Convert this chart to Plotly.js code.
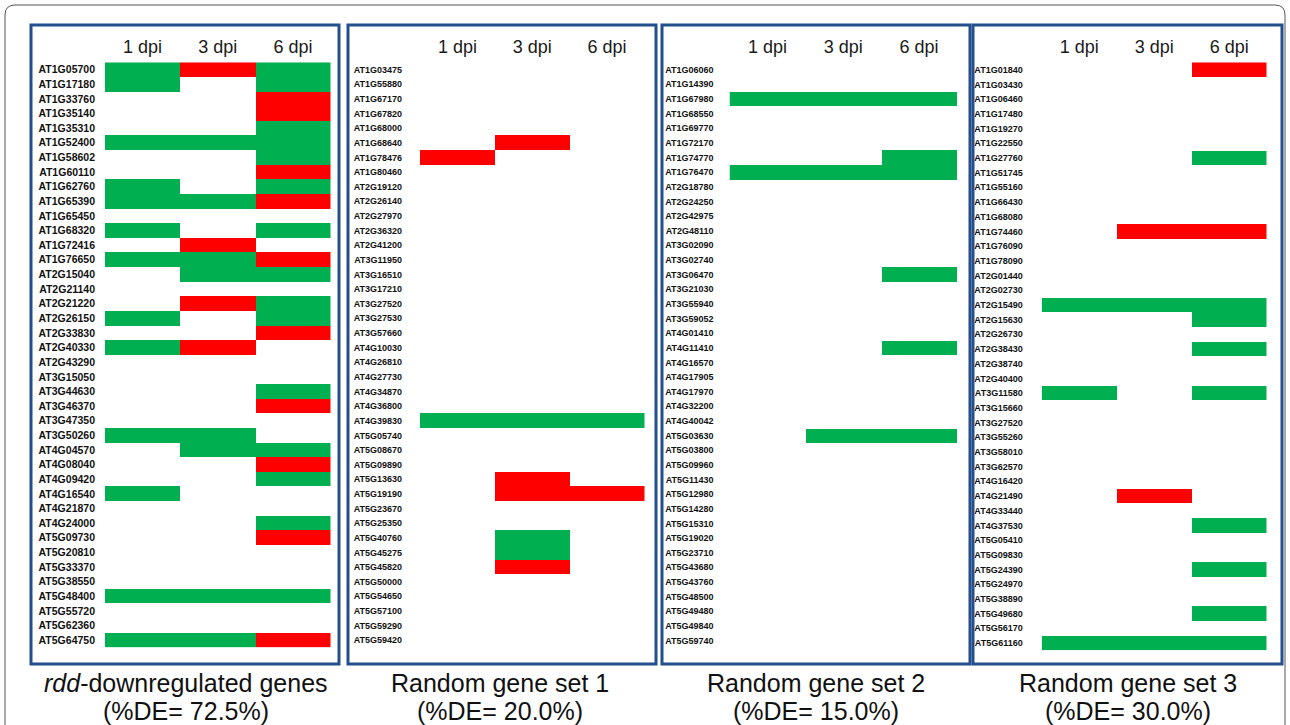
<!DOCTYPE html>
<html>
<head>
<meta charset="utf-8">
<script src="https://cdn.plot.ly/plotly-3.0.1.min.js"></script>
<style>html,body{margin:0;padding:0;background:#fff;}#chart{width:1290px;height:725px;}</style>
</head>
<body>
<div id="chart"></div>
<script>
// ---------------- DATA ----------------
const dpiLabels = ["1 dpi", "3 dpi", "6 dpi"];
// -1 = down (green), 0 = not DE (white), 1 = up (red); columns: 1, 3, 6 dpi

const genesRdd = ["AT1G05700","AT1G17180","AT1G33760","AT1G35140","AT1G35310","AT1G52400","AT1G58602","AT1G60110","AT1G62760","AT1G65390","AT1G65450","AT1G68320","AT1G72416","AT1G76650","AT2G15040","AT2G21140","AT2G21220","AT2G26150","AT2G33830","AT2G40330","AT2G43290","AT3G15050","AT3G44630","AT3G46370","AT3G47350","AT3G50260","AT4G04570","AT4G08040","AT4G09420","AT4G16540","AT4G21870","AT4G24000","AT5G09730","AT5G20810","AT5G33370","AT5G38550","AT5G48400","AT5G55720","AT5G62360","AT5G64750"];
const valuesRdd = [[-1,1,-1],[-1,0,-1],[0,0,1],[0,0,1],[0,0,-1],[-1,-1,-1],[0,0,-1],[0,0,1],[-1,0,-1],[-1,-1,1],[0,0,0],[-1,0,-1],[0,1,0],[-1,-1,1],[0,-1,-1],[0,0,0],[0,1,-1],[-1,0,-1],[0,0,1],[-1,1,0],[0,0,0],[0,0,0],[0,0,-1],[0,0,1],[0,0,0],[-1,-1,0],[0,-1,-1],[0,0,1],[0,0,-1],[-1,0,0],[0,0,0],[0,0,-1],[0,0,1],[0,0,0],[0,0,0],[0,0,0],[-1,-1,-1],[0,0,0],[0,0,0],[-1,-1,1]];

const genesSet1 = ["AT1G03475","AT1G55880","AT1G67170","AT1G67820","AT1G68000","AT1G68640","AT1G78476","AT1G80460","AT2G19120","AT2G26140","AT2G27970","AT2G36320","AT2G41200","AT3G11950","AT3G16510","AT3G17210","AT3G27520","AT3G27530","AT3G57660","AT4G10030","AT4G26810","AT4G27730","AT4G34870","AT4G36800","AT4G39830","AT5G05740","AT5G08670","AT5G09890","AT5G13630","AT5G19190","AT5G23670","AT5G25350","AT5G40760","AT5G45275","AT5G45820","AT5G50000","AT5G54650","AT5G57100","AT5G59290","AT5G59420"];
const valuesSet1 = [[0,0,0],[0,0,0],[0,0,0],[0,0,0],[0,0,0],[0,1,0],[1,0,0],[0,0,0],[0,0,0],[0,0,0],[0,0,0],[0,0,0],[0,0,0],[0,0,0],[0,0,0],[0,0,0],[0,0,0],[0,0,0],[0,0,0],[0,0,0],[0,0,0],[0,0,0],[0,0,0],[0,0,0],[-1,-1,-1],[0,0,0],[0,0,0],[0,0,0],[0,1,0],[0,1,1],[0,0,0],[0,0,0],[0,-1,0],[0,-1,0],[0,1,0],[0,0,0],[0,0,0],[0,0,0],[0,0,0],[0,0,0]];

const genesSet2 = ["AT1G06060","AT1G14390","AT1G67980","AT1G68550","AT1G69770","AT1G72170","AT1G74770","AT1G76470","AT2G18780","AT2G24250","AT2G42975","AT2G48110","AT3G02090","AT3G02740","AT3G06470","AT3G21030","AT3G55940","AT3G59052","AT4G01410","AT4G11410","AT4G16570","AT4G17905","AT4G17970","AT4G32200","AT4G40042","AT5G03630","AT5G03800","AT5G09960","AT5G11430","AT5G12980","AT5G14280","AT5G15310","AT5G19020","AT5G23710","AT5G43680","AT5G43760","AT5G48500","AT5G49480","AT5G49840","AT5G59740"];
const valuesSet2 = [[0,0,0],[0,0,0],[-1,-1,-1],[0,0,0],[0,0,0],[0,0,0],[0,0,-1],[-1,-1,-1],[0,0,0],[0,0,0],[0,0,0],[0,0,0],[0,0,0],[0,0,0],[0,0,-1],[0,0,0],[0,0,0],[0,0,0],[0,0,0],[0,0,-1],[0,0,0],[0,0,0],[0,0,0],[0,0,0],[0,0,0],[0,-1,-1],[0,0,0],[0,0,0],[0,0,0],[0,0,0],[0,0,0],[0,0,0],[0,0,0],[0,0,0],[0,0,0],[0,0,0],[0,0,0],[0,0,0],[0,0,0],[0,0,0]];

const genesSet3 = ["AT1G01840","AT1G03430","AT1G06460","AT1G17480","AT1G19270","AT1G22550","AT1G27760","AT1G51745","AT1G55160","AT1G66430","AT1G68080","AT1G74460","AT1G76090","AT1G78090","AT2G01440","AT2G02730","AT2G15490","AT2G15630","AT2G26730","AT2G38430","AT2G38740","AT2G40400","AT3G11580","AT3G15660","AT3G27520","AT3G55260","AT3G58010","AT3G62570","AT4G16420","AT4G21490","AT4G33440","AT4G37530","AT5G05410","AT5G09830","AT5G24390","AT5G24970","AT5G38890","AT5G49680","AT5G56170","AT5G61160"];
const valuesSet3 = [[0,0,1],[0,0,0],[0,0,0],[0,0,0],[0,0,0],[0,0,0],[0,0,-1],[0,0,0],[0,0,0],[0,0,0],[0,0,0],[0,1,1],[0,0,0],[0,0,0],[0,0,0],[0,0,0],[-1,-1,-1],[0,0,-1],[0,0,0],[0,0,-1],[0,0,0],[0,0,0],[-1,0,-1],[0,0,0],[0,0,0],[0,0,0],[0,0,0],[0,0,0],[0,0,0],[0,1,0],[0,0,0],[0,0,-1],[0,0,0],[0,0,0],[0,0,-1],[0,0,0],[0,0,0],[0,0,-1],[0,0,0],[-1,-1,-1]];

const captionNames = ["<i>rdd</i>-downregulated genes", "Random gene set 1", "Random gene set 2", "Random gene set 3"];

// ---------------- LAYOUT ----------------
const W = 1290, H = 725;
const fx = x => x / W;
const fy = y => 1 - y / H;

const panels = [
  {genes: genesRdd,  vals: valuesRdd,  box: [31,25,339,664],  hx: [105,330.5],    hy: [62.3,647.5], lblSize: 10.5, standoff: 9,  cx: 186},
  {genes: genesSet1, vals: valuesSet1, box: [348,25,656,664], hx: [420,644.5],    hy: [62.3,647.5], lblSize: 9,    standoff: 17, cx: 500},
  {genes: genesSet2, vals: valuesSet2, box: [662,25,970,664], hx: [729.5,957],    hy: [62.3,647.8], lblSize: 9,    standoff: 15, cx: 816},
  {genes: genesSet3, vals: valuesSet3, box: [973,25,1282,664],hx: [1041.7,1266.7],hy: [62.3,650.3], lblSize: 9,    standoff: 18, cx: 1128}
];

const GREEN = '#00B050', RED = '#FF0000', BLUE = '#234F8C';
const traces = [];
const layout = {
  width: W, height: H,
  margin: {l:0, r:0, t:0, b:0},
  paper_bgcolor: '#fff', plot_bgcolor: '#fff',
  showlegend: false,
  font: {family: 'Liberation Sans, Arial, sans-serif', color: '#111'},
  shapes: [], annotations: []
};

// outer rounded frame (bottom edge runs off the canvas)
(function(){
  const x0=5, y0=5, x1=1285, y1=745, r=10;
  const p = `M ${fx(x0+r)},${fy(y0)} L ${fx(x1-r)},${fy(y0)} Q ${fx(x1)},${fy(y0)} ${fx(x1)},${fy(y0+r)} L ${fx(x1)},${fy(y1-r)} Q ${fx(x1)},${fy(y1)} ${fx(x1-r)},${fy(y1)} L ${fx(x0+r)},${fy(y1)} Q ${fx(x0)},${fy(y1)} ${fx(x0)},${fy(y1-r)} L ${fx(x0)},${fy(y0+r)} Q ${fx(x0)},${fy(y0)} ${fx(x0+r)},${fy(y0)} Z`;
  layout.shapes.push({type:'path', xref:'paper', yref:'paper', path:p, line:{color:'#555', width:1}, layer:'below'});
})();

panels.forEach((p, i) => {
  const n = i === 0 ? '' : String(i + 1);
  const deCount = p.vals.filter(r => r.some(v => v !== 0)).length;
  const pct = (100 * deCount / p.genes.length).toFixed(1);

  traces.push({
    type: 'heatmap',
    x: dpiLabels,
    y: p.genes,
    z: p.vals,
    xaxis: 'x' + n, yaxis: 'y' + n,
    zmin: -1, zmax: 1,
    colorscale: [[0, GREEN], [0.5, '#FFFFFF'], [1, RED]],
    showscale: false,
    xgap: 0, ygap: 0,
    hoverinfo: 'skip'
  });

  layout['xaxis' + n] = {
    domain: [fx(p.hx[0]), fx(p.hx[1])],
    anchor: 'y' + n,
    type: 'category',
    side: 'top',
    showgrid: false, zeroline: false, showline: false, ticks: '',
    tickfont: {size: 18, color: '#1a1a1a', family: 'Liberation Sans, Arial, sans-serif'},
    ticklabelstandoff: 5,
    fixedrange: true
  };
  layout['yaxis' + n] = {
    domain: [fy(p.hy[1]), fy(p.hy[0])],
    anchor: 'x' + n,
    type: 'category',
    categoryorder: 'array', categoryarray: p.genes,
    autorange: 'reversed',
    showgrid: false, zeroline: false, showline: false, ticks: '',
    tickfont: {size: p.lblSize, color: '#111', weight: 'bold', family: 'Liberation Sans, Arial, sans-serif'},
    ticklabelstandoff: p.standoff,
    fixedrange: true
  };

  const b = p.box;
  layout.shapes.push({type:'rect', xref:'paper', yref:'paper',
    x0: fx(b[0]), x1: fx(b[2]), y0: fy(b[3]), y1: fy(b[1]),
    line: {color: BLUE, width: 3}, fillcolor: 'rgba(0,0,0,0)'});

  layout.annotations.push({xref:'paper', yref:'paper', x: fx(p.cx), y: fy(683),
    xanchor:'center', yanchor:'middle', showarrow:false,
    text: captionNames[i], font:{size: 25, color:'#111'}});
  layout.annotations.push({xref:'paper', yref:'paper', x: fx(p.cx), y: fy(711),
    xanchor:'center', yanchor:'middle', showarrow:false,
    text: '(%DE= ' + pct + '%)', font:{size: 25, color:'#111'}});
});

Plotly.newPlot('chart', traces, layout, {displayModeBar: false, staticPlot: true});
</script>
</body>
</html>
